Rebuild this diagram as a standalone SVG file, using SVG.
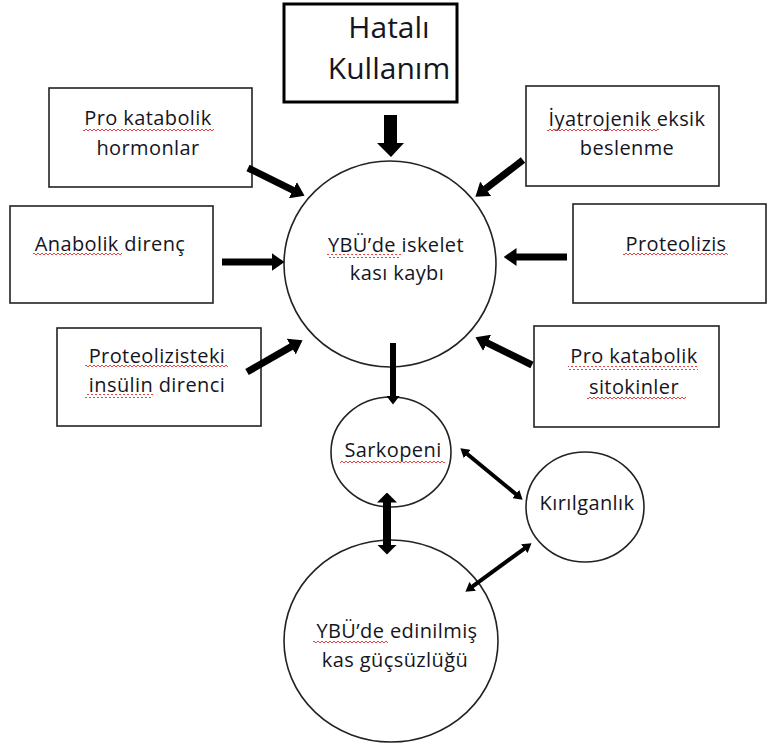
<svg xmlns="http://www.w3.org/2000/svg" width="768" height="749" viewBox="0 0 768 749">
<style>
.box{fill:#fff;stroke:#222;stroke-width:1.6}
.circ{fill:#fff;stroke:#222;stroke-width:1.6}
text{font-family:"Open Sans","DejaVu Sans",sans-serif;font-size:20px;letter-spacing:0.4px;fill:#151522;text-anchor:middle}
.big{font-size:30px;letter-spacing:0}
.arr{stroke:#000;fill:none}
.sq{fill:url(#squig)}
</style>
<defs>
<pattern id="squig" patternUnits="userSpaceOnUse" width="4" height="4">
<path d="M0,3 L2,1 L4,3" fill="none" stroke="#e23030" stroke-width="0.9"/>
</pattern>
<marker id="hBig" markerUnits="userSpaceOnUse" markerWidth="13" markerHeight="18" viewBox="0 0 13 18" refX="0.5" refY="9" orient="auto-start-reverse">
<path d="M0,0 L13,9 L0,18 z" fill="#000"/>
</marker>
<marker id="hMed" markerUnits="userSpaceOnUse" markerWidth="9" markerHeight="14" viewBox="0 0 9 14" refX="0.5" refY="7" orient="auto-start-reverse">
<path d="M0,0 L9,7 L0,14 z" fill="#000"/>
</marker>
<marker id="hSm" markerUnits="userSpaceOnUse" markerWidth="9" markerHeight="11" viewBox="0 0 9 11" refX="0.5" refY="5.5" orient="auto-start-reverse">
<path d="M0,0 L9,5.5 L0,11 z" fill="#000"/>
</marker>
<marker id="hDbl" markerUnits="userSpaceOnUse" markerWidth="10" markerHeight="20" viewBox="0 0 10 20" refX="0.5" refY="10" orient="auto-start-reverse">
<path d="M0,0 L10,10 L0,20 z" fill="#000"/>
</marker>
</defs>
<rect width="768" height="749" fill="#fff"/>

<g id="hatali-kullanim">
<rect x="284" y="4" width="173" height="98" fill="#fff" stroke="#000" stroke-width="3"/>
<text class="big" x="389" y="38">Hatalı</text>
<text class="big" x="389" y="79">Kullanım</text>
</g>

<g id="pro-katabolik-hormonlar">
<rect class="box" x="49" y="88" width="203" height="99"/>
<text x="148" y="125">Pro katabolik</text>
<text x="148" y="155">hormonlar</text>
<rect class="sq" x="83" y="127" width="131" height="4"/>
</g>

<g id="iyatrojenik">
<rect class="box" x="526" y="86" width="193" height="100"/>
<text x="627" y="126">İyatrojenik eksik</text>
<text x="627" y="155">beslenme</text>
<rect class="sq" x="547" y="128" width="112" height="4"/>
</g>

<g id="anabolik-direnc">
<rect class="box" x="10" y="206" width="203" height="97"/>
<text x="110" y="251">Anabolik direnç</text>
<rect class="sq" x="33" y="253" width="89" height="4"/>
</g>

<g id="proteolizis">
<rect class="box" x="573" y="204" width="193" height="99"/>
<text x="676" y="251">Proteolizis</text>
<rect class="sq" x="623" y="253" width="105" height="4"/>
</g>

<g id="proteolizisteki">
<rect class="box" x="57" y="328" width="204" height="98"/>
<text x="157" y="363">Proteolizisteki</text>
<text x="157" y="392">insülin direnci</text>
<rect class="sq" x="85" y="365" width="143" height="4"/>
<rect class="sq" x="85" y="394" width="68" height="4"/>
</g>

<g id="pro-katabolik-sitokinler">
<rect class="box" x="534" y="326" width="185" height="101"/>
<text x="634" y="363">Pro katabolik</text>
<text x="634" y="394">sitokinler</text>
<rect class="sq" x="568" y="366" width="130" height="4"/>
<rect class="sq" x="587" y="396" width="99" height="4"/>
</g>

<g id="iskelet-kasi-kaybi">
<ellipse class="circ" cx="390" cy="264" rx="106" ry="103"/>
<text x="396" y="252">YBÜ’de iskelet</text>
<text x="397" y="280">kası kaybı</text>
<rect class="sq" x="327" y="254" width="74" height="4"/>
</g>

<g id="sarkopeni">
<ellipse class="circ" cx="391" cy="452" rx="60" ry="55"/>
<text x="393" y="457">Sarkopeni</text>
<rect class="sq" x="340" y="459" width="105" height="4"/>
</g>

<g id="kirilganlik">
<ellipse class="circ" cx="585" cy="507" rx="59" ry="55"/>
<text x="587" y="510">Kırılganlık</text>
</g>

<g id="edinilmis-kas-gucsuzlugu">
<ellipse class="circ" cx="391" cy="641" rx="107" ry="101"/>
<text x="397" y="638">YBÜ’de edinilmiş</text>
<text x="395" y="667">kas güçsüzlüğü</text>
<rect class="sq" x="313" y="640" width="75" height="4"/>
</g>

<g id="connectors">
<polygon points="384,115 397,115 397,143 404,143 391,157 377,143 384,143" fill="#000"/>
<line class="arr" x1="248" y1="168" x2="293.3" y2="190.3" stroke-width="7" marker-end="url(#hBig)"/>
<line class="arr" x1="523" y1="160" x2="485.3" y2="189.1" stroke-width="7" marker-end="url(#hBig)"/>
<line class="arr" x1="222" y1="262" x2="272" y2="262" stroke-width="7" marker-end="url(#hBig)"/>
<line class="arr" x1="567" y1="257" x2="516" y2="257" stroke-width="7" marker-end="url(#hBig)"/>
<line class="arr" x1="247" y1="372" x2="291.7" y2="346.4" stroke-width="7" marker-end="url(#hBig)"/>
<line class="arr" x1="532" y1="365" x2="486.7" y2="342.7" stroke-width="7" marker-end="url(#hBig)"/>
<line class="arr" x1="393" y1="343" x2="393" y2="396" stroke-width="6" marker-end="url(#hMed)"/>
<line class="arr" x1="466.9" y1="453.7" x2="516.1" y2="494.3" stroke-width="4" marker-start="url(#hSm)" marker-end="url(#hSm)"/>
<line class="arr" x1="387" y1="502" x2="387" y2="545" stroke-width="8" marker-start="url(#hDbl)" marker-end="url(#hDbl)"/>
<line class="arr" x1="524.7" y1="548.3" x2="472.3" y2="586.7" stroke-width="4" marker-start="url(#hSm)" marker-end="url(#hSm)"/>
</g>
</svg>
